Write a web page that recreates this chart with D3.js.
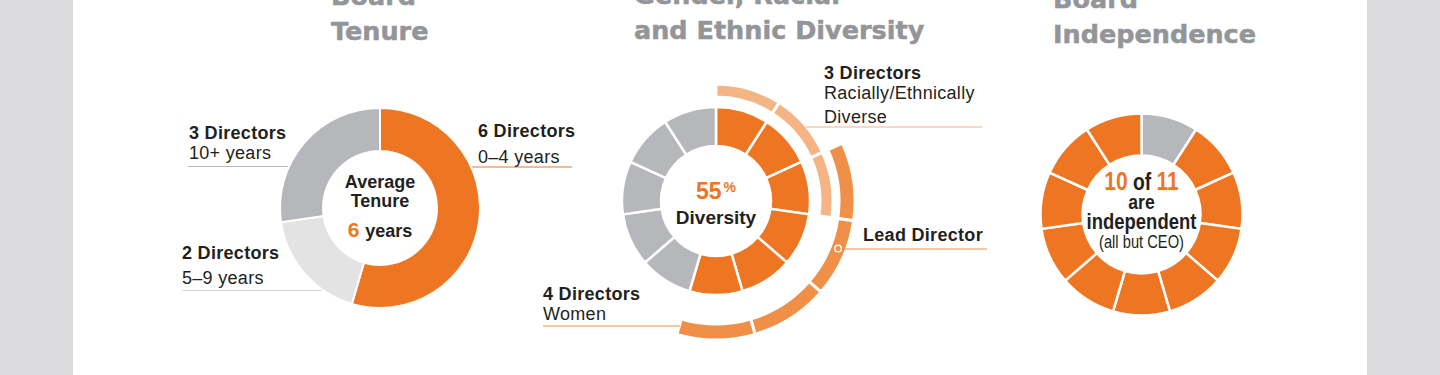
<!DOCTYPE html>
<html>
<head>
<meta charset="utf-8">
<script src="https://cdn.jsdelivr.net/npm/d3@7"></script>
<style>
  body { margin: 0; background: #dcdcde; }
  svg { display: block; font-family: "Liberation Sans", Arial, sans-serif; }
  .head { font-family: "DejaVu Sans", sans-serif; font-weight: bold; font-size: 25.5px; fill: #939598; stroke: #939598; stroke-width: 0.5px; }
  .lbl { font-size: 18px; fill: #231f20; letter-spacing: 0.3px; }
  .lbl.b { font-weight: bold; }
</style>
</head>
<body>
<div id="chart"></div>
<script>
// tenure donut
const tenureGroups = ["0–4 years", "5–9 years", "10+ years"];
const tenureCounts = [6, 2, 3];
const averageTenure = 6;

// diversity donut: 11 seats, first 6 diverse
const seatDiverse = [1, 1, 1, 1, 1, 1, 0, 0, 0, 0, 0];
const racialSeats = [0, 1, 2];
const womenSeats = [2, 3, 4, 5];
const leadDirectorSeat = 3;
const diversityPct = 55;

// independence donut: CEO is first seat
const seatIndependent = [0, 1, 1, 1, 1, 1, 1, 1, 1, 1, 1];

const orange = "#ee7623", grey = "#b6b7ba", lightGrey = "#e3e3e4",
      lightOrange = "#f4b483", midOrange = "#f08f47", ink = "#231f20";

const svg = d3.select("#chart").append("svg")
  .attr("width", 1440).attr("height", 375);

svg.append("rect").attr("width", 1440).attr("height", 375).attr("fill", "#dcdcde");
svg.append("rect").attr("x", 73).attr("width", 1294).attr("height", 375).attr("fill", "#fff");

// headings
function heading(x, lines, y0) {
  let t = svg.append("text").attr("class", "head").attr("x", x).attr("y", y0);
  lines.forEach((l, i) => t.append("tspan").attr("x", x).attr("dy", i ? 35 : 0).text(l));
}
heading(331, ["Board", "Tenure"], 5);
heading(634, ["Gender, Racial", "and Ethnic Diversity"], 4);
heading(1053, ["Board", "Independence"], 8);

function label(x, y, txt, bold) {
  return svg.append("text").attr("class", "lbl" + (bold ? " b" : ""))
    .attr("x", x).attr("y", y).text(txt);
}
function rule(x1, x2, y, c) {
  svg.append("line").attr("x1", x1).attr("x2", x2).attr("y1", y).attr("y2", y)
    .attr("stroke", c).attr("stroke-width", 1.2);
}

// ---------- tenure ----------
{
  const cx = 380, cy = 208;
  rule(188, 300, 166.5, "#b9babd");
  rule(182, 345, 290.5, "#d4d4d6");
  rule(465, 572, 167, orange);

  const pie = d3.pie().sort(null).value(d => d);
  const arc = d3.arc().innerRadius(57).outerRadius(100);
  const cols = [orange, lightGrey, grey];
  const g = svg.append("g").attr("transform", `translate(${cx},${cy})`);
  g.selectAll("path").data(pie(tenureCounts)).join("path")
    .attr("d", arc).attr("fill", (d, i) => cols[i])
    .attr("stroke", "#fff").attr("stroke-width", 2);

  label(478, 137, tenureCounts[0] + " Directors", true);
  label(478, 163, tenureGroups[0]);
  label(182, 259, tenureCounts[1] + " Directors", true);
  label(182, 284, tenureGroups[1]);
  label(189, 139, tenureCounts[2] + " Directors", true);
  label(189, 159, tenureGroups[2]);

  const c = g.append("text").attr("text-anchor", "middle").attr("font-weight", "bold")
    .attr("fill", ink).attr("font-size", 18);
  c.append("tspan").attr("x", 0).attr("y", -20).text("Average");
  c.append("tspan").attr("x", 0).attr("y", -1).text("Tenure");
  const l3 = g.append("text").attr("text-anchor", "middle").attr("font-weight", "bold")
    .attr("y", 29).attr("font-size", 18).attr("fill", ink);
  l3.append("tspan").attr("fill", orange).attr("font-size", 21).text(averageTenure);
  l3.append("tspan").attr("dx", 6).text("years");
}

// ---------- diversity ----------
{
  const cx = 716, cy = 201;
  const seats = d3.pie().sort(null).value(1)(seatDiverse);
  const g = svg.append("g").attr("transform", `translate(${cx},${cy})`);

  rule(805, 982, 127, lightOrange);
  rule(543, 680, 326, midOrange);

  const inner = d3.arc().innerRadius(55).outerRadius(94);
  g.selectAll("path.seat").data(seats).join("path").attr("class", "seat")
    .attr("d", inner).attr("fill", d => d.data ? orange : grey)
    .attr("stroke", "#fff").attr("stroke-width", 2.5);

  const ringRacial = d3.arc().innerRadius(104).outerRadius(117);
  g.selectAll("path.rac").data(racialSeats.map(i => seats[i])).join("path").attr("class", "rac")
    .attr("d", ringRacial).attr("fill", lightOrange)
    .attr("stroke", "#fff").attr("stroke-width", 3);

  const ringWomen = d3.arc().innerRadius(123).outerRadius(139);
  g.selectAll("path.wom").data(womenSeats.map(i => seats[i])).join("path").attr("class", "wom")
    .attr("d", ringWomen).attr("fill", midOrange)
    .attr("stroke", "#fff").attr("stroke-width", 3);

  // lead director marker
  const ls = seats[leadDirectorSeat];
  const a = ls.startAngle + (ls.endAngle - ls.startAngle) * 0.4;
  const mx = cx + 131 * Math.sin(a), my = cy - 131 * Math.cos(a);
  rule(mx, 987, 249, midOrange);
  svg.append("circle").attr("cx", mx).attr("cy", my).attr("r", 3.3)
    .attr("fill", midOrange).attr("stroke", "#fff").attr("stroke-width", 1.4);

  label(824, 79, racialSeats.length + " Directors", true);
  label(824, 99, "Racially/Ethnically");
  label(824, 123, "Diverse");
  label(863, 241, "Lead Director", true);
  label(543, 300, womenSeats.length + " Directors", true);
  label(543, 320, "Women");

  const p = g.append("text").attr("text-anchor", "middle").attr("font-weight", "bold")
    .attr("y", -2).attr("fill", orange);
  p.append("tspan").attr("font-size", 23).text(diversityPct);
  p.append("tspan").attr("font-size", 14).attr("dx", 2).attr("dy", -7).text("%");
  g.append("text").attr("text-anchor", "middle").attr("font-weight", "bold")
    .attr("y", 23).attr("font-size", 19).attr("fill", ink).text("Diversity");
}

// ---------- independence ----------
{
  const cx = 1141.5, cy = 214.5;
  const seats = d3.pie().sort(null).value(1)(seatIndependent);
  const g = svg.append("g").attr("transform", `translate(${cx},${cy})`);
  const arc = d3.arc().innerRadius(59).outerRadius(101);
  g.selectAll("path").data(seats).join("path")
    .attr("d", arc).attr("fill", d => d.data ? orange : grey)
    .attr("stroke", "#fff").attr("stroke-width", 2.5);

  const nInd = d3.sum(seatIndependent), nAll = seatIndependent.length;
  // condensed centre text
  const ct = g.append("g").attr("transform", "scale(0.84,1)");
  const t = ct.append("text").attr("text-anchor", "middle").attr("font-weight", "bold")
    .attr("y", -24.5).attr("font-size", 23).attr("fill", ink);
  t.append("tspan").attr("fill", orange).attr("font-size", 25).text(nInd);
  t.append("tspan").text(" of ");
  t.append("tspan").attr("fill", orange).attr("font-size", 25).text(nAll);
  ct.append("text").attr("text-anchor", "middle").attr("font-weight", "bold")
    .attr("y", -5.5).attr("font-size", 21).attr("fill", ink).text("are");
  ct.append("text").attr("text-anchor", "middle").attr("font-weight", "bold")
    .attr("y", 14.5).attr("font-size", 22).attr("fill", ink).text("independent");
  ct.append("text").attr("text-anchor", "middle")
    .attr("y", 33.5).attr("font-size", 17.5).attr("fill", ink).text("(all but CEO)");
}
</script>
</body>
</html>
